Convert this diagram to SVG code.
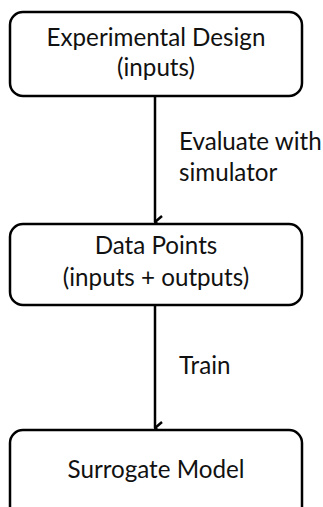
<svg xmlns="http://www.w3.org/2000/svg" width="323" height="507" viewBox="0 0 323 507">
<style>
.box{fill:#fff;stroke:#000;stroke-width:2.5}
.t{font-family:Lato,"Open Sans","Liberation Sans",sans-serif;font-size:24.2px;fill:#111}
.c{text-anchor:middle}
.edge{stroke:#000;stroke-width:2.5;fill:none}
</style>
<defs>
<marker id="arr" viewBox="0 0 14 14" refX="7" refY="13" markerWidth="14" markerHeight="14" markerUnits="userSpaceOnUse" orient="auto-start-reverse">
<path d="M1,6 L7,13 L13,6" fill="none" stroke="#000" stroke-width="2.5"/>
</marker>
</defs>
<rect width="323" height="507" fill="#fff"/>
<g id="connectors">
<line class="edge" x1="155" y1="96" x2="155" y2="222" marker-end="url(#arr)"/>
<line class="edge" x1="155" y1="305" x2="155" y2="428" marker-end="url(#arr)"/>
<text class="t" x="179" y="150">Evaluate with</text>
<text class="t" x="179" y="181">simulator</text>
<text class="t" x="179" y="374">Train</text>
</g>
<g id="experimental-design">
<rect class="box" x="10" y="12" width="292" height="84" rx="13"/>
<text class="t c" x="156" y="46">Experimental Design</text>
<text class="t c" x="156" y="76">(inputs)</text>
</g>
<g id="data-points">
<rect class="box" x="10" y="224" width="292" height="81" rx="13"/>
<text class="t c" x="156" y="254">Data Points</text>
<text class="t c" x="156" y="286">(inputs + outputs)</text>
</g>
<g id="surrogate-model">
<rect class="box" x="10" y="430" width="292" height="100" rx="13"/>
<text class="t c" x="156" y="478">Surrogate Model</text>
</g>
</svg>
